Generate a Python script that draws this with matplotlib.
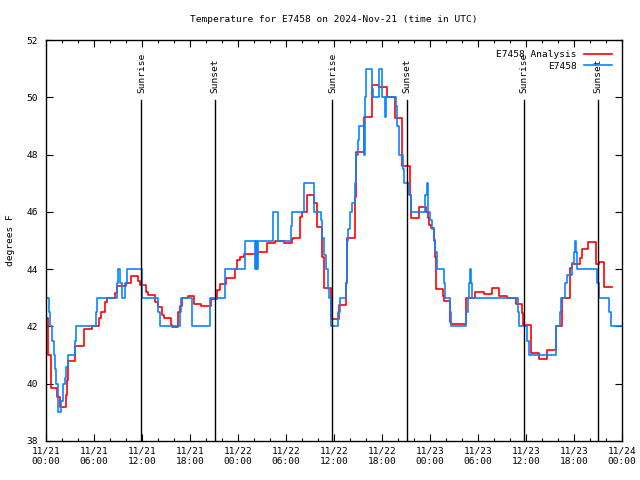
import matplotlib
matplotlib.use("Agg")
import matplotlib.pyplot as plt
from matplotlib.ticker import FixedLocator, MultipleLocator

# ---- data (hours since 2024-11-21 00:00 UTC) ----
analysis_t = [0, 0.3, 0.6, 1.4, 1.69, 2.44, 2.57, 2.69, 3.66, 4.7, 5.75, 6.58, 6.87, 7.41, 7.62,
              8.67, 8.88, 9.96, 10.67, 11.55, 11.72, 12.55, 12.76, 13.64, 14.06, 14.56, 14.77,
              15.6, 15.73, 16.56, 16.77, 16.98, 17.8, 18.48, 19.4, 20.57, 21.41, 21.7, 22.54,
              23.58, 23.9, 24.2, 24.75, 26.5, 27.67, 28.63, 29.76, 30.72, 30.85, 31.76, 31.97,
              32.6, 33.5, 33.85, 34.5, 34.7, 34.8, 35.65, 36.61, 37.53, 37.66, 38.57, 38.7,
              39.74, 40.71, 41.62, 42.67, 43.63, 44.55, 45.5, 45.63, 46.68, 47.51, 47.72,
              47.93, 48.14, 48.44, 48.64, 48.77, 49.6, 49.73, 50.44, 50.65, 52.53, 53.57,
              54.74, 55.7, 56.66, 57.66, 58.75, 59.46, 59.67, 60.58, 61.68, 62.68, 63.8,
              64.51, 65.56, 65.77, 66.69, 66.94, 67.78, 68.69, 69.11, 69.74, 70.7]
analysis_v = [42.3, 41.0, 39.84, 39.55, 39.2, 39.6, 40.13, 40.8, 41.3, 41.9, 42.0, 42.3, 42.5, 42.86, 43.0,
              43.17, 43.42, 43.5, 43.76, 43.6, 43.45, 43.2, 43.1, 42.86, 42.69, 42.4, 42.3,
              42.05, 41.97, 42.5, 42.7, 43.0, 43.05, 42.8, 42.7, 42.95, 43.27, 43.48, 43.68,
              44.0, 44.32, 44.43, 44.53, 44.6, 44.92, 45.0, 44.92, 45.05, 45.1, 45.83, 46.0,
              46.59, 46.3, 45.48, 44.43, 43.68, 43.33, 42.25, 42.75, 43.5, 45.07, 46.53, 48.1,
              49.32, 50.43, 50.35, 50.02, 49.27, 47.6, 46.6, 45.77, 46.18, 46.0, 45.77,
              45.54, 45.42, 45.02, 44.43, 43.3, 43.06, 42.89, 42.15, 42.08, 42.98, 43.19,
              43.13, 43.33, 43.06, 43.0, 42.77, 42.46, 42.04, 41.06, 40.85, 41.18, 42.0,
              43.0, 44.03, 44.17, 44.38, 44.7, 44.96, 44.17, 44.24, 43.39, 43.39]

obs_t = [0, 0.4, 0.52, 0.73, 0.94, 1.11, 1.23, 1.44, 1.48, 1.86, 2.07, 2.36, 2.53, 2.69, 3.66, 3.74,
         6.24, 6.37, 8.88, 9.04, 9.29, 9.54, 9.83, 10.17, 11.95, 14.06, 14.2, 16.73, 16.85,
         18.27, 20.45, 22.41, 24.92, 26.15, 26.25, 26.42, 26.52, 28.34, 29.05, 30.6, 30.8,
         32.3, 33.56, 34.4, 34.5, 34.77, 34.94, 35.2, 35.4, 35.57, 36.53, 36.7, 37.45, 37.57,
         37.66, 37.78, 37.95, 38.28, 38.62, 38.78, 38.99, 39.12, 39.75, 39.87, 40.04, 40.71,
         40.87, 41.62, 41.96, 42.38, 42.5, 43.72, 43.92, 44.13, 44.63, 44.76, 45.43, 45.63,
         47.43, 47.6, 47.72, 47.81, 48.06, 48.23, 48.48, 48.68, 48.85, 49.73, 49.9, 50.44,
         50.65, 52.53, 52.74, 52.9, 53.03, 53.15, 53.28, 58.96, 59.17, 60.17, 60.38, 63.7,
         63.76, 64.3, 64.43, 64.93, 65.14, 65.77, 65.98, 66.1, 66.27, 66.39, 68.9, 69.11,
         70.36, 70.65, 72.0]
obs_v = [43.0, 42.5, 42.0, 41.5, 41.0, 40.5, 40.0, 39.66, 39.0, 39.4, 40.0, 40.2, 40.6, 41.0, 41.5, 42.0,
         42.5, 43.0, 43.5, 44.0, 43.5, 43.0, 43.5, 44.0, 43.0, 42.5, 42.0, 42.5, 43.0,
         42.0, 43.0, 44.0, 45.0, 44.0, 45.0, 44.0, 45.0, 46.0, 45.0, 45.5, 46.0,
         47.0, 46.0, 45.7, 45.1, 44.5, 44.0, 43.3, 43.0, 42.0, 42.5, 43.0, 43.5, 44.5,
         45.0, 45.4, 46.0, 46.3, 47.0, 48.0, 48.5, 49.0, 48.0, 50.0, 51.0, 50.3,
         50.0, 51.0, 50.0, 49.3, 50.0, 49.7, 49.0, 48.0, 47.5, 47.0, 46.6, 46.0,
         46.6, 47.0, 46.5, 46.0, 45.7, 45.4, 45.0, 44.6, 44.0, 43.5, 43.0, 42.5,
         42.0, 42.5, 43.0, 43.5, 44.0, 43.5, 43.0, 42.5, 42.0, 41.5, 41.0, 41.5,
         42.0, 42.5, 43.0, 43.5, 43.8, 44.2, 44.6, 45.0, 44.6, 44.0, 43.5, 43.0,
         42.5, 42.0, 42.0]

sunrise_t = [11.93, 35.8, 59.78]
sunset_t = [21.1, 45.15, 69.03]

xtick_pos = [0, 6, 12, 18, 24, 30, 36, 42, 48, 54, 60, 66, 72]
xtick_labels = ["11/21\n00:00", "11/21\n06:00", "11/21\n12:00", "11/21\n18:00",
                "11/22\n00:00", "11/22\n06:00", "11/22\n12:00", "11/22\n18:00",
                "11/23\n00:00", "11/23\n06:00", "11/23\n12:00", "11/23\n18:00",
                "11/24\n00:00"]
yticks = [38, 40, 42, 44, 46, 48, 50, 52]

FONT = "DejaVu Sans Mono"
FS = 6.8
plt.rcParams['font.family'] = [FONT]

fig = plt.figure(figsize=(6.4, 4.8), dpi=100)
ax = fig.add_axes([46/640, 1 - 441/480, 576/640, 401/480])

ax.step(analysis_t, analysis_v, where='post', color='#ff0000', lw=1.2, label='E7458 Analysis')
ax.step(obs_t, obs_v, where='post', color='#0a84ff', lw=1.2, label='E7458')

for t in sunrise_t:
    ax.axvline(t, ymax=(49.9 - 38) / 14, color='black', lw=1.0)
    ax.text(t, 50.15, 'Sunrise', rotation=90, ha='center', va='bottom', fontsize=FS)
for t in sunset_t:
    ax.axvline(t, ymax=(49.9 - 38) / 14, color='black', lw=1.0)
    ax.text(t, 50.15, 'Sunset', rotation=90, ha='center', va='bottom', fontsize=FS)

ax.set_xlim(0, 72)
ax.set_ylim(38, 52)
ax.xaxis.set_major_locator(FixedLocator(xtick_pos))
ax.set_xticklabels(xtick_labels)
ax.xaxis.set_minor_locator(MultipleLocator(2))
ax.set_yticks(yticks)
ax.tick_params(axis='both', which='both', direction='in', top=True, right=True, labelsize=FS, width=0.8)
ax.tick_params(axis='both', which='major', length=5, pad=4)
ax.tick_params(axis='y', which='major', pad=6)
ax.tick_params(axis='both', which='minor', length=2.5)
for s in ax.spines.values():
    s.set_linewidth(1.0)

ax.set_ylabel('degrees F', fontsize=FS, labelpad=8)
ax.set_title('Temperature for E7458 on 2024-Nov-21 (time in UTC)', fontsize=FS, pad=12.8)

ax.legend(loc='upper right', markerfirst=False, frameon=False, fontsize=FS,
          handlelength=2.9, handletextpad=0.8, labelspacing=0.25, borderaxespad=0.7)

fig.savefig('out.png', dpi=100)
